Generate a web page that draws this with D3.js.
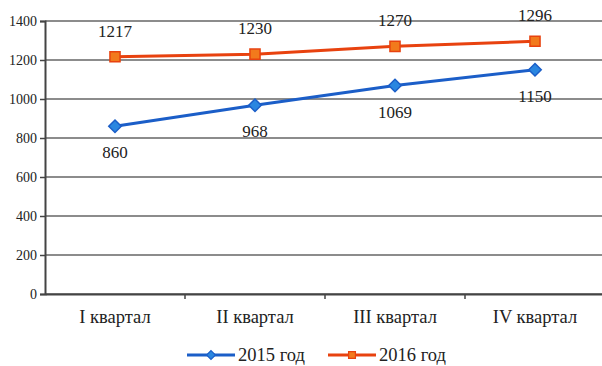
<!DOCTYPE html>
<html>
<head>
<meta charset="utf-8">
<script src="https://cdn.jsdelivr.net/npm/d3@7"></script>
<style>
  body { margin: 0; background: #fff; }
  svg text { font-family: "Liberation Serif", "DejaVu Serif", serif !important; }
</style>
</head>
<body>
<svg id="chart" width="602" height="366"></svg>
<script>
var categories = ["I квартал", "II квартал", "III квартал", "IV квартал"];
var values2015 = [860, 968, 1069, 1150];
var values2016 = [1217, 1230, 1270, 1296];
var yTicks = [0, 200, 400, 600, 800, 1000, 1200, 1400];
var seriesNames = ["2015 год", "2016 год"];

var chart = {};
chart.draw = function() {
    const margin = { top: 21, left: 45 };
    const width = 560;
    const height = 273;

    const svg = d3.select("#chart");
    const g = svg.append("g")
        .attr("transform", "translate(" + margin.left + "," + margin.top + ")");

    var xScale = d3.scaleBand().domain(categories).range([0, width]);
    var yScale = d3.scaleLinear().domain([0, 1400]).range([height, 0]);

    // gridlines
    g.selectAll("line.grid")
        .data(yTicks)
        .enter().append("line")
        .attr("class", "grid")
        .attr("x1", 0).attr("x2", width)
        .attr("y1", d => yScale(d)).attr("y2", d => yScale(d))
        .attr("stroke", "#666").attr("stroke-width", 1.5);

    // y axis
    var yAxis = g.append("g")
        .call(d3.axisLeft(yScale).tickValues(yTicks).tickSize(5).tickFormat(d3.format("d")));
    yAxis.select(".domain").attr("stroke", "#444").attr("stroke-width", 2);
    yAxis.selectAll(".tick line").attr("stroke", "#444").attr("stroke-width", 1.5);
    yAxis.selectAll(".tick text").attr("font-size", 14).attr("fill", "#222").attr("x", -8);

    // x axis
    var xAxis = g.append("g")
        .attr("transform", "translate(0," + height + ")")
        .call(d3.axisBottom(xScale).tickSize(0).tickPadding(16));
    xAxis.select(".domain").attr("stroke", "#444").attr("stroke-width", 2);
    xAxis.selectAll(".tick text").attr("font-size", 18.5).attr("fill", "#222");
    // tick marks between categories
    g.selectAll("line.xtick")
        .data(categories.slice(1))
        .enter().append("line")
        .attr("class", "xtick")
        .attr("x1", d => xScale(d)).attr("x2", d => xScale(d))
        .attr("y1", height).attr("y2", height + 5)
        .attr("stroke", "#444").attr("stroke-width", 1.5);

    const cx = d => xScale(d) + xScale.bandwidth() / 2;

    var series = [
        { name: seriesNames[0], values: values2015, color: "#1b5ec8", fill: "#2a86e0", marker: "diamond", labelDy: 32 },
        { name: seriesNames[1], values: values2016, color: "#e8420f", fill: "#f27a1c", marker: "square", labelDy: -20 }
    ];

    var line = d3.line().x(d => cx(d.c)).y(d => yScale(d.v));

    series.forEach(function(s) {
        var pts = categories.map((c, i) => ({ c: c, v: s.values[i] }));
        g.append("path")
            .datum(pts)
            .attr("d", line)
            .attr("fill", "none")
            .attr("stroke", s.color)
            .attr("stroke-width", 3);

        var sym = s.marker === "diamond"
            ? d3.symbol().type(d3.symbolDiamond2).size(100)
            : d3.symbol().type(d3.symbolSquare2).size(130);
        g.selectAll(null)
            .data(pts)
            .enter().append("path")
            .attr("d", sym)
            .attr("transform", d => "translate(" + cx(d.c) + "," + yScale(d.v) + ")")
            .attr("fill", s.fill)
            .attr("stroke", s.color)
            .attr("stroke-width", 1.5);

        g.selectAll(null)
            .data(pts)
            .enter().append("text")
            .attr("x", d => cx(d.c))
            .attr("y", d => yScale(d.v) + s.labelDy)
            .attr("text-anchor", "middle")
            .attr("font-size", 17)
            .attr("fill", "#222")
            .text(d => d.v);
    });

    // legend
    var legendX = [187, 328];
    series.forEach(function(s, i) {
        var lg = svg.append("g").attr("transform", "translate(" + legendX[i] + ",355)");
        lg.append("line").attr("x1", 0).attr("x2", 48).attr("y1", 0).attr("y2", 0)
            .attr("stroke", s.color).attr("stroke-width", 3);
        var sym = s.marker === "diamond"
            ? d3.symbol().type(d3.symbolDiamond2).size(50)
            : d3.symbol().type(d3.symbolSquare2).size(60);
        lg.append("path").attr("d", sym).attr("transform", "translate(24,0)")
            .attr("fill", s.fill).attr("stroke", s.color).attr("stroke-width", 1.2);
        lg.append("text").attr("x", 51).attr("y", 6).attr("font-size", 18.5)
            .attr("fill", "#222").text(s.name);
    });
};
chart.draw();
</script>
</body>
</html>
